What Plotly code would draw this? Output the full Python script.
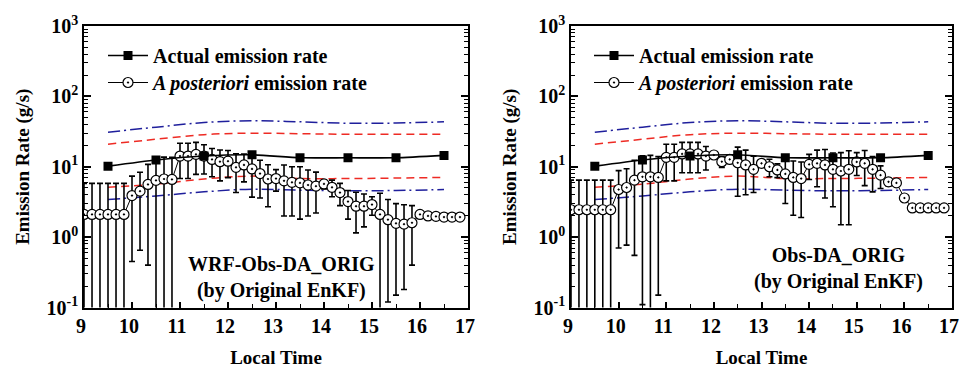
import plotly.graph_objects as go

# ---------------- data ----------------
times = [9.000, 9.167, 9.333, 9.500, 9.667, 9.833,
         10.000, 10.167, 10.333, 10.500, 10.667, 10.833,
         11.000, 11.167, 11.333, 11.500, 11.667, 11.833,
         12.000, 12.167, 12.333, 12.500, 12.667, 12.833,
         13.000, 13.167, 13.333, 13.500, 13.667, 13.833,
         14.000, 14.167, 14.333, 14.500, 14.667, 14.833,
         15.000, 15.167, 15.333, 15.500, 15.667, 15.833,
         16.000, 16.167, 16.333, 16.500, 16.667, 16.833]

hours = [9.5, 10.5, 11.5, 12.5, 13.5, 14.5, 15.5, 16.5]
actual = [10.2, 12.5, 14.2, 14.8, 13.4, 13.4, 13.4, 14.5]
red_upper = [20.9, 24.6, 28.6, 30.0, 29.5, 28.9, 28.9, 28.9]
red_lower = [5.1, 5.66, 6.7, 7.36, 6.8, 6.8, 6.9, 7.05]
blue_upper = [31.0, 36.5, 42.5, 45.0, 43.5, 41.5, 41.8, 43.5]
blue_lower = [3.42, 3.85, 4.4, 4.8, 4.65, 4.55, 4.6, 4.75]

# Left panel: WRF-Obs-DA_ORIG
post_left = [2.1, 2.1, 2.1, 2.1, 2.1, 2.1,
             3.9, 4.5, 5.6, 6.4, 6.7, 6.6,
             14.2, 14.2, 15.0, 14.2, 12.7, 11.8,
             12.0, 9.8, 10.6, 9.3, 8.0, 6.7,
             6.8, 6.3, 6.0, 5.9, 5.5, 5.3,
             5.7, 5.1, 4.3, 3.2, 2.75, 2.75,
             2.9, 2.1, 1.77, 1.57, 1.53, 1.6,
             2.1, 2.0, 1.97, 1.93, 1.93, 1.93]
err_left = [3.7, 3.7, 3.7, 3.7, 3.7, 3.7,
            3.45, 3.85, 5.2, 7.2, 7.0, 7.0,
            7.4, 7.4, 7.2, 6.3, 5.5, 5.5,
            5.0, 5.5, 4.5, 5.6, 4.4, 4.0,
            2.3, 4.3, 4.0, 4.1, 3.5, 3.1,
            0.85, 1.35, 1.5, 1.4, 1.6, 1.35,
            0.85, 2.1, 1.65, 1.42, 1.35, 1.2,
            0, 0, 0, 0, 0, 0]

# Right panel: Obs-DA_ORIG
post_right = [2.45, 2.45, 2.45, 2.45, 2.45, 2.45,
              4.75, 5.07, 6.45, 7.2, 7.2, 7.05,
              13.6, 13.6, 15.2, 15.2, 15.2, 14.2,
              14.7, 11.8, 12.7, 11.4, 10.6, 9.2,
              11.2, 10.0, 9.0, 7.9, 7.05, 6.8,
              10.8, 11.2, 10.6, 9.2, 8.7, 9.2,
              11.7, 11.2, 9.2, 7.6, 6.1, 5.9,
              3.6, 2.6, 2.6, 2.6, 2.6, 2.6]
err_right = [4.0, 4.0, 4.0, 4.0, 4.0, 4.0,
             4.05, 4.3, 5.9, 7.09, 7.3, 6.9,
             7.3, 7.3, 7.0, 7.0, 7.0, 5.2,
             1.0, 2.0, 1.5, 7.6, 6.6, 4.9,
             1.3, 2.8, 2.0, 4.9, 5.0, 4.9,
             4.2, 6.0, 7.0, 6.5, 7.2, 7.7,
             4.2, 5.8, 4.8, 2.7, 0.8, 0.5,
             0, 0, 0, 0, 0, 0]

panels = [
    ("WRF-Obs-DA_ORIG<br>(by Original EnKF)", post_left, err_left),
    ("Obs-DA_ORIG<br>(by Original EnKF)", post_right, err_right),
]

ytickvals = [0.1, 1, 10, 100, 1000]
yticktext = ["10<sup>-1</sup>", "10<sup>0</sup>", "10<sup>1</sup>", "10<sup>2</sup>", "10<sup>3</sup>"]
xtickvals = [9, 10, 11, 12, 13, 14, 15, 16, 17]

FONT = "Liberation Serif, Times New Roman, Times, serif"
BLUE = "#1f1f9c"
RED = "#ee2b24"

# ---------------- figure ----------------
fig = go.Figure()

for k, (label, post, err) in enumerate(panels):
    xa = "x" if k == 0 else "x2"
    ya = "y" if k == 0 else "y2"
    lg_act = "legend" if k == 0 else "legend3"
    lg_post = "legend2" if k == 0 else "legend4"
    for vals, color, dash in [(blue_upper, BLUE, "12px,4px,2px,4px"), (red_upper, RED, "8px,5px"),
                              (red_lower, RED, "8px,5px"), (blue_lower, BLUE, "12px,4px,2px,4px")]:
        fig.add_trace(go.Scatter(
            x=hours, y=vals, xaxis=xa, yaxis=ya, mode="lines",
            line=dict(color=color, width=1.5, dash=dash, shape="spline", smoothing=1.0),
            showlegend=False, hoverinfo="skip"))
    fig.add_trace(go.Scatter(
        x=times, y=post, xaxis=xa, yaxis=ya, mode="lines+markers",
        name="<i>A posteriori</i> emission rate", legend=lg_post,
        line=dict(color="black", width=1),
        marker=dict(symbol="circle-dot", size=10, color="white",
                    line=dict(color="black", width=1.2)),
        error_y=dict(type="data", array=err, symmetric=True, color="black",
                     thickness=1.6, width=3)))
    fig.add_trace(go.Scatter(
        x=hours, y=actual, xaxis=xa, yaxis=ya, mode="lines+markers",
        name="Actual emission rate", legend=lg_act,
        line=dict(color="black", width=1.6, shape="spline", smoothing=0.6),
        marker=dict(symbol="square", size=9, color="black")))

W, H = 960, 370
xdoms = [[84 / W, 468 / W], [571 / W, 952 / W]]
ydom = [1 - 307.5 / H, 1 - 26 / H]

axis_common = dict(showline=True, linecolor="black", linewidth=1.5, ticks="inside",
                   tickcolor="black", tickwidth=1.5, showgrid=False, zeroline=False,
                   automargin=False, ticklabeloverflow="allow")

for k in range(2):
    sx = "" if k == 0 else "2"
    fig.update_layout({
        f"xaxis{sx}": dict(domain=xdoms[k], range=[9, 17], tickvals=xtickvals, ticklen=6,
                           mirror=True, anchor=f"y{sx}", ticklabelshift=-3,
                           minor=dict(ticks="inside", dtick=0.5, tick0=9, ticklen=4,
                                      tickcolor="black", tickwidth=1.2),
                           title=dict(text="Local Time", font=dict(size=19), standoff=14),
                           tickfont=dict(size=20), **axis_common),
        f"yaxis{sx}": dict(domain=ydom, type="log", range=[-1, 3], tickvals=ytickvals,
                           ticktext=yticktext, ticklen=7, mirror="ticks", anchor=f"x{sx}",
                           minor=dict(ticks="inside", ticklen=4, tickcolor="black", tickwidth=1.2,
                                      tickvals=[m * 10 ** e for e in range(-1, 3) for m in range(2, 10)]),
                           title=dict(text="Emission Rate (g/s)", font=dict(size=19), standoff=12),
                           tickfont=dict(size=20), **axis_common),
    })

legend_style = dict(xanchor="left", yanchor="top", bgcolor="rgba(0,0,0,0)",
                    font=dict(size=20), itemwidth=40)

fig.update_layout(
    width=W, height=H, margin=dict(l=0, r=0, t=0, b=0),
    paper_bgcolor="white", plot_bgcolor="white",
    font=dict(family=FONT, size=19, color="black", weight="bold"),
    legend=dict(x=103 / W, y=1 - 36 / H, **legend_style),
    legend2=dict(x=103 / W, y=1 - 63 / H, **legend_style),
    legend3=dict(x=589 / W, y=1 - 36 / H, **legend_style),
    legend4=dict(x=589 / W, y=1 - 63 / H, **legend_style),
    annotations=[
        dict(text=panels[0][0], xref="paper", yref="paper", x=281 / W, y=1 - 277 / H,
             xanchor="center", yanchor="middle",
             showarrow=False, align="center", font=dict(size=20)),
        dict(text=panels[1][0], xref="paper", yref="paper", x=838 / W, y=1 - 268 / H,
             xanchor="center", yanchor="middle",
             showarrow=False, align="center", font=dict(size=20)),
    ],
)

fig.write_html("out.html")
